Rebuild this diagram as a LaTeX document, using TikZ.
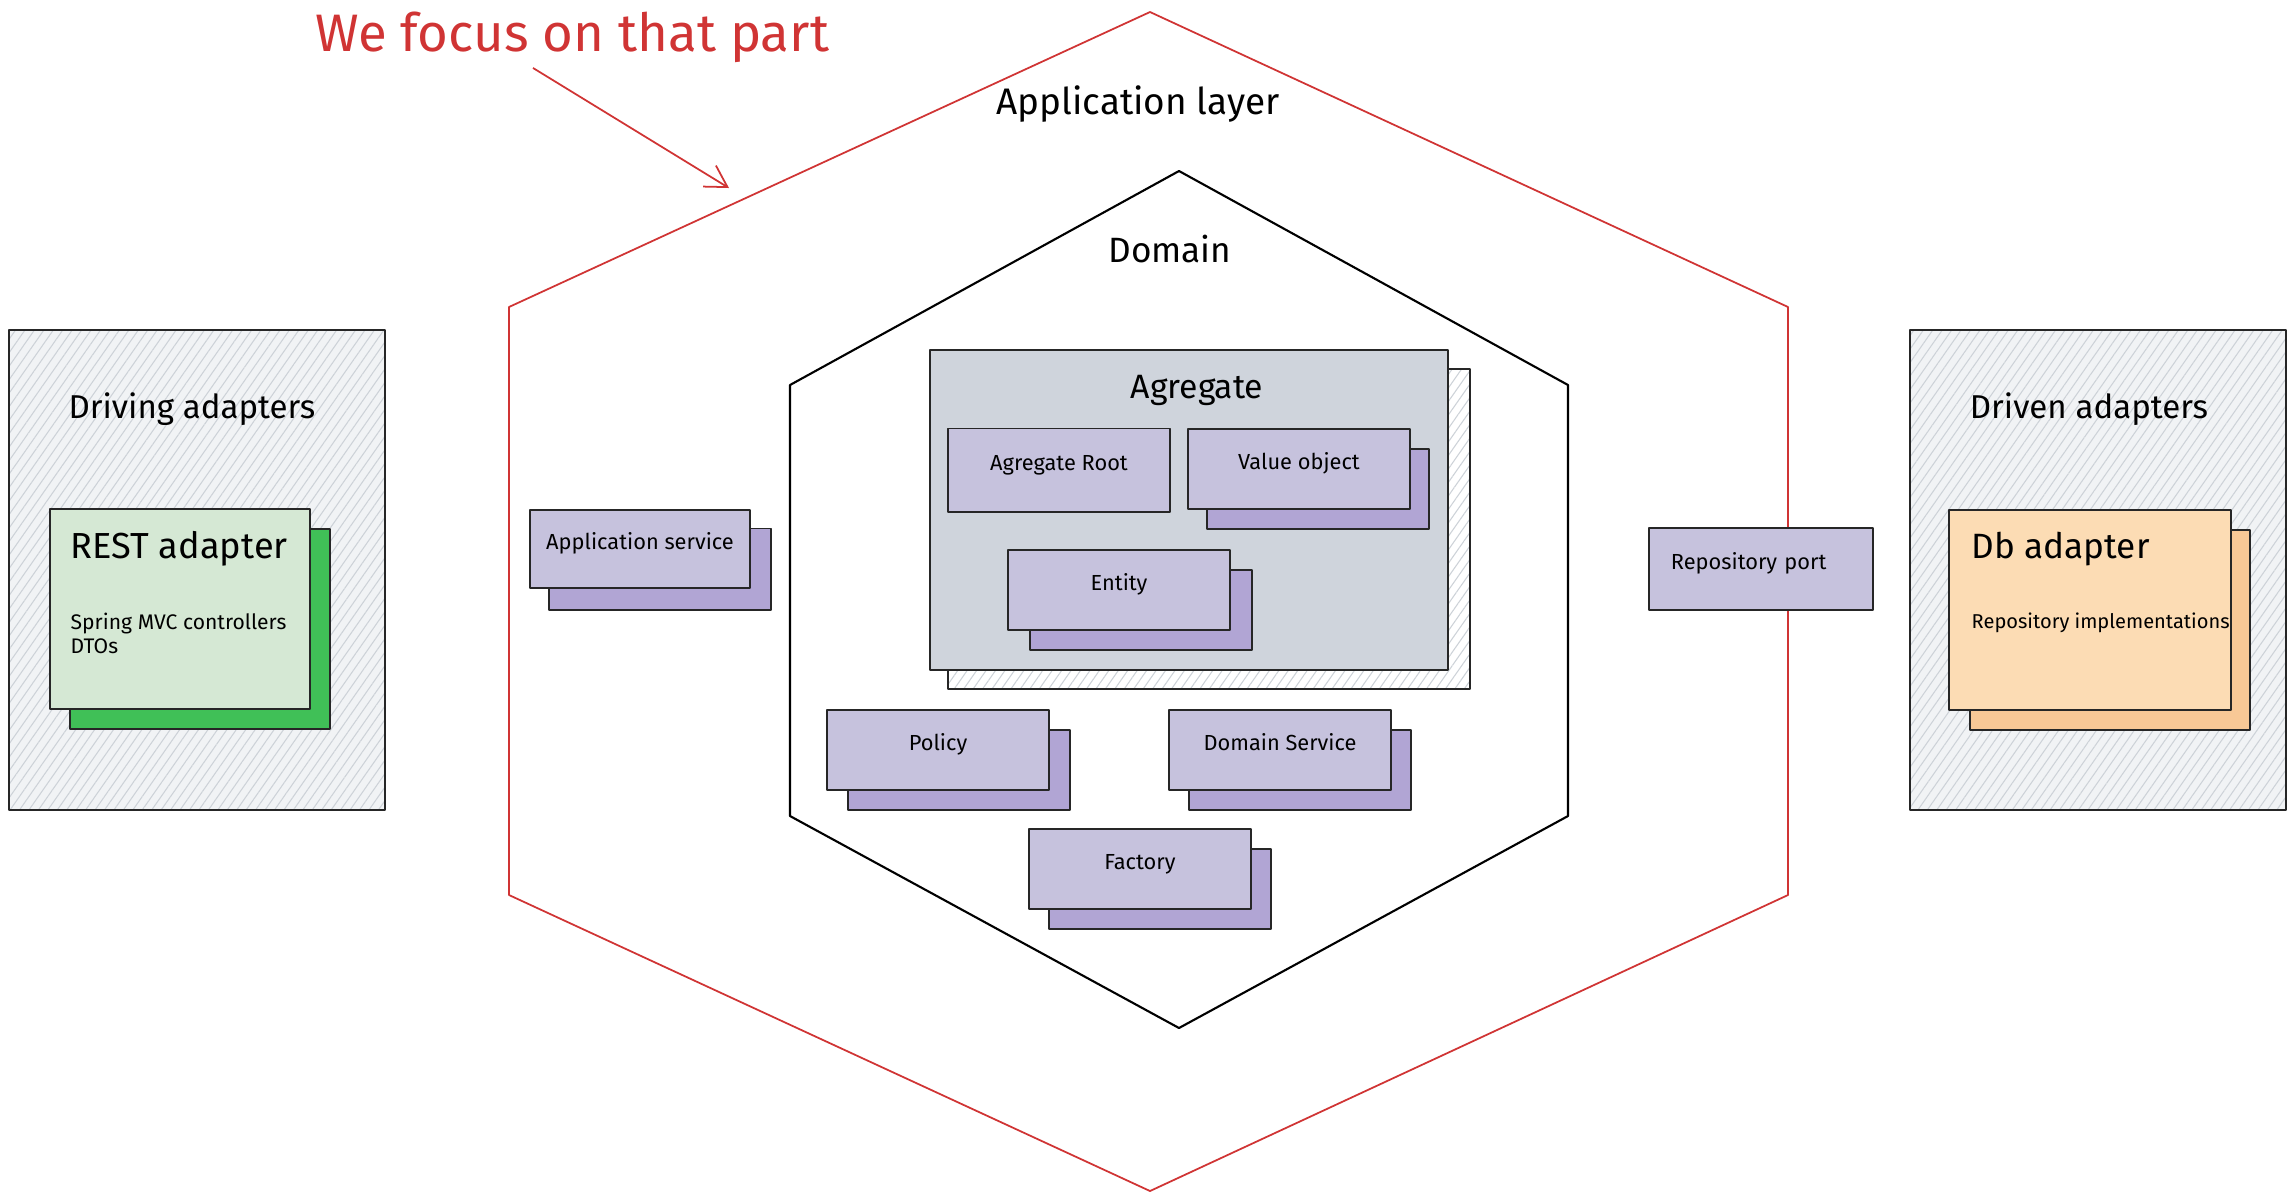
\documentclass[tikz,border=0pt]{standalone}
\usepackage{fontspec}
\setmainfont{Fira Sans}
\usetikzlibrary{positioning, patterns.meta, arrows.meta}

\definecolor{cardpurple}{HTML}{C6C2DD}
\definecolor{cardshade}{HTML}{B1A5D4}
\definecolor{aggrgrey}{HTML}{CFD4DC}
\definecolor{hatchbg}{HTML}{F1F3F5}
\definecolor{hatchline}{HTML}{CDD2D8}
\definecolor{restgreen}{HTML}{D5E8D4}
\definecolor{restshade}{HTML}{40C057}
\definecolor{dborange}{HTML}{FCDCB4}
\definecolor{dbshade}{HTML}{F8C896}
\definecolor{focusred}{HTML}{D03434}

\begin{document}
\begin{tikzpicture}[
    x=0.01cm, y=-0.01cm, line join=round,
    every node/.style={inner sep=0pt},
    outline/.style={draw=black!85, line width=0.55pt},
    hatched/.style={outline, preaction={fill=#1},
        pattern={Lines[angle=55, distance=2.2pt, line width=0.3pt]},
        pattern color=hatchline},
    adapter/.style={hatched=hatchbg, minimum width=3.75cm, minimum height=4.8cm},
    adaptercard/.style={outline, minimum width=2.6cm, minimum height=2cm},
    card/.style={outline, fill=cardpurple, minimum width=2.21cm,
                 minimum height=0.8cm, font=\fontsize{6.2}{7}\selectfont,
                 text height=4pt, text depth=4pt},
    cardback/.style={card, fill=cardshade},
    hexred/.style={draw=focusred, line width=0.5pt},
    hexblack/.style={draw=black, line width=0.6pt},
    ttl/.style={anchor=base, font=\fontsize{10.5}{12}\selectfont},
    adaptertitle/.style={anchor=base, font=\fontsize{9.4}{11}\selectfont},
    cardtitle/.style={anchor=base west, font=\fontsize{10.3}{12}\selectfont},
    cardnote/.style={anchor=north west, align=left,
                     font=\fontsize{6}{7}\selectfont},
    focuslbl/.style={anchor=base, text=focusred,
                     font=\fontsize{15}{17}\selectfont},
    focusarr/.style={draw=focusred, line width=0.5pt,
                     -{Straight Barb[length=6pt, width=7pt]}},
]
\useasboundingbox (0,0) rectangle (2294,1202);

% Application layer and domain hexagons
\draw[hexred] (1150,12) -- (1788,307) -- (1788,895) -- (1150,1191)
    -- (509,895) -- (509,307) -- cycle;
\draw[hexblack] (1179,171) -- (1568,385) -- (1568,816) -- (1179,1028)
    -- (790,816) -- (790,385) -- cycle;
\node[ttl] (applbl) at (1138,114) {Application layer};
\node[ttl, font=\fontsize{10}{12}\selectfont] (domlbl) at (1170,262) {Domain};

% Annotation
\node[focuslbl] (focus) at (572,51) {We focus on that part};
\coordinate (focustip) at (729,188);
\draw[focusarr] ([xshift=-0.39cm, yshift=-0.05cm]focus.south) -- (focustip);

% Driving adapters
\node[adapter] (driving) at (197,570) {};
\node[adaptertitle] (drivinglbl) at (192,418) {Driving adapters};
\node[adaptercard, fill=restshade] (restb) at (200,629) {};
\node[adaptercard, fill=restgreen] (rest) at (180,609) {};
\node[cardtitle] (restlbl) at (70,558) {REST adapter};
\node[cardnote] (restnote) at (70,612) {Spring MVC controllers\\DTOs};

% Driven adapters
\node[adapter] (driven) at (2098,570) {};
\node[adaptertitle] (drivenlbl) at (2089,418) {Driven adapters};
\node[adaptercard, minimum width=2.8cm, fill=dbshade] (dbb) at (2110,630) {};
\node[adaptercard, minimum width=2.82cm, fill=dborange] (db) at (2090,610) {};
\node[cardtitle, font=\fontsize{10}{12}\selectfont] (dblbl) at (1971,558) {Db adapter};
\node[cardnote, font=\fontsize{5.7}{7}\selectfont]
    (dbnote) at (1971,612) {Repository implementations};

% Agregate
\node[hatched=white, minimum width=5.22cm, minimum height=3.2cm]
    (aggrb) at (1209,529) {};
\node[outline, fill=aggrgrey, minimum width=5.18cm, minimum height=3.2cm]
    (aggr) at (1189,510) {};
\node[ttl, font=\fontsize{9.6}{11}\selectfont] (aggrlbl) at (1197,398) {Agregate};

\node[card, minimum height=0.83cm] (root) at (1059,470) {Agregate Root};
\node[cardback] (valueb) at (1318,489) {};
\node[card] (value) at (1299,469) {Value object};
\node[cardback] (entityb) at (1141,610) {};
\node[card] (entity) at (1119,590) {Entity};

% Domain building blocks
\node[cardback] (policyb) at (959,770) {};
\node[card] (policy) at (938,750) {Policy};
\node[cardback] (domsvcb) at (1300,770) {};
\node[card] (domsvc) at (1280,750) {Domain Service};
\node[cardback] (factoryb) at (1160,889) {};
\node[card] (factory) at (1140,869) {Factory};

% Application layer blocks
\node[cardback, minimum width=2.22cm, minimum height=0.81cm]
    (appsvcb) at (660,569) {};
\node[card, minimum width=2.2cm, minimum height=0.78cm]
    (appsvc) at (640,549) {Application service};
\node[card, minimum width=2.24cm, minimum height=0.82cm,
      text width=1.8cm, align=left] (repo) at (1761,569) {Repository port};

\end{tikzpicture}
\end{document}
